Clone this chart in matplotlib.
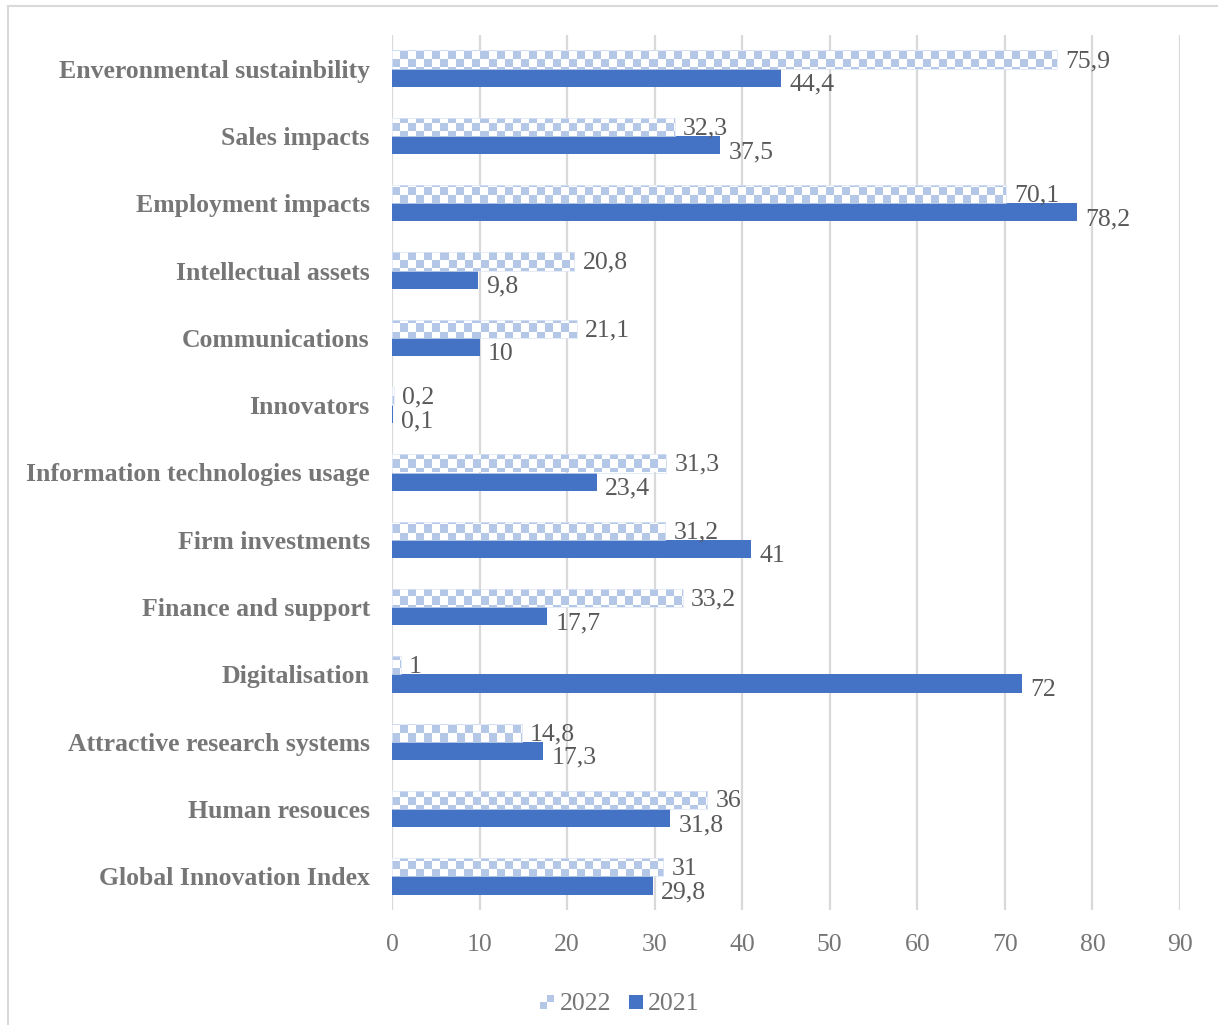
import numpy as np
import matplotlib
matplotlib.use("Agg")
import matplotlib.pyplot as plt
from matplotlib.colors import ListedColormap
from matplotlib.patches import Rectangle
from matplotlib.lines import Line2D
from matplotlib.legend_handler import HandlerBase

categories = [
    "Enveronmental sustainbility",
    "Sales impacts",
    "Employment impacts",
    "Intellectual assets",
    "Communications",
    "Innovators",
    "Information technologies usage",
    "Firm investments",
    "Finance and support",
    "Digitalisation",
    "Attractive research systems",
    "Human resouces",
    "Global Innovation Index",
]
values_2022 = [75.9, 32.3, 70.1, 20.8, 21.1, 0.2, 31.3, 31.2, 33.2, 1, 14.8, 36, 31]
values_2021 = [44.4, 37.5, 78.2, 9.8, 10, 0.1, 23.4, 41, 17.7, 72, 17.3, 31.8, 29.8]
labels_2022 = ["75,9", "32,3", "70,1", "20,8", "21,1", "0,2", "31,3", "31,2", "33,2", "1", "14,8", "36", "31"]
labels_2021 = ["44,4", "37,5", "78,2", "9,8", "10", "0,1", "23,4", "41", "17,7", "72", "17,3", "31,8", "29,8"]
xticks = [0, 10, 20, 30, 40, 50, 60, 70, 80, 90]
series_names = ["2022", "2021"]

C21 = "#4472C4"
C22 = "#B4C7E7"
LABEL_GRAY = "#767676"
NUM_GRAY = "#595959"
GRID = "#D9D9D9"

plt.rcParams["font.family"] = ["Liberation Serif", "DejaVu Serif"]

W, H = 1218, 1025
fig = plt.figure(figsize=(W / 100, H / 100), dpi=100)
ax = fig.add_axes([392 / W, 1 - 910 / H, (1180 - 392) / W, (910 - 35) / H])

n = len(categories)
ypos = np.arange(n)[::-1]  # first category at top
bh = 0.27
y22 = ypos + bh / 2
y21 = ypos - bh / 2

bars21 = ax.barh(y21, values_2021, height=bh, color=C21, zorder=3)
bars22 = ax.barh(y22, values_2022, height=bh, color="none", edgecolor="#DCE5F4", linewidth=0.5, zorder=4)

ax.set_xlim(0, 90)
ax.set_ylim(-0.5, n - 0.5)

# checkerboard fill for the 2022 bars (approx. 8 px squares)
ax_w_px = 1180 - 392
ax_h_px = 910 - 35
ncol = ax_w_px // 8
nrow = ax_h_px // 8
ii, jj = np.indices((nrow, ncol))
checker = (ii + jj) % 2
cmap = ListedColormap(["white", C22])
for b in bars22:
    im = ax.imshow(checker, cmap=cmap, extent=(0, 90, -0.5, n - 0.5), aspect="auto",
                   interpolation="nearest", zorder=3.5, origin="upper")
    im.set_clip_path(b)
ax.set_xlim(0, 90)
ax.set_ylim(-0.5, n - 0.5)

ax.set_xticks(xticks)
ax.set_yticks(ypos)
ax.set_yticklabels(categories, fontsize=18.5, fontweight="bold", color=LABEL_GRAY)
ax.tick_params(axis="y", length=0, pad=16)
ax.tick_params(axis="x", length=0, pad=17, labelsize=18.5)
for lab in ax.get_xticklabels():
    lab.set_color(LABEL_GRAY)
ax.grid(axis="x", color=GRID, linewidth=1.6, zorder=0)
ax.set_axisbelow(True)
for s in ax.spines.values():
    s.set_visible(False)

for v, y, t in zip(values_2022, y22, labels_2022):
    ax.annotate(t, (v, y), xytext=(6, -1), textcoords="offset points",
                va="center", ha="left", fontsize=18.5, color=NUM_GRAY, zorder=6)
for v, y, t in zip(values_2021, y21, labels_2021):
    ax.annotate(t, (v, y), xytext=(6, -5), textcoords="offset points",
                va="center", ha="left", fontsize=18.5, color=NUM_GRAY, zorder=6)


class CheckerHandler(HandlerBase):
    def create_artists(self, legend, orig_handle, xdescent, ydescent, width, height, fontsize, trans):
        s = min(width, height)
        x0 = width - s - xdescent
        y0 = -ydescent
        h = s / 2
        arts = []
        for (dx, dy, c) in [(0, 0, C22), (h, 0, "white"), (0, h, "white"), (h, h, C22)]:
            r = Rectangle((x0 + dx, y0 + dy), h, h, facecolor=c, edgecolor="none", transform=trans)
            arts.append(r)
        return arts


class SquareHandler(HandlerBase):
    def create_artists(self, legend, orig_handle, xdescent, ydescent, width, height, fontsize, trans):
        s = min(width, height)
        r = Rectangle((width - s - xdescent, -ydescent), s, s, facecolor=C21, edgecolor="none", transform=trans)
        return [r]


h22 = Rectangle((0, 0), 1, 1)
h21 = Rectangle((0, 0), 1, 1)
leg = fig.legend([h22, h21], series_names, loc="center", bbox_to_anchor=(620 / W, 1 - 1004 / H),
                 ncol=2, frameon=False, fontsize=18.5, handlelength=0.55, handleheight=0.55,
                 handletextpad=0.2, columnspacing=0.7,
                 handler_map={h22: CheckerHandler(), h21: SquareHandler()})
for t in leg.get_texts():
    t.set_color(LABEL_GRAY)

# outer chart border
fig.add_artist(Line2D([8 / W, 8 / W], [0, 1 - 6 / H], transform=fig.transFigure, color=GRID, linewidth=1.5))
fig.add_artist(Line2D([8 / W, 1], [1 - 6 / H, 1 - 6 / H], transform=fig.transFigure, color=GRID, linewidth=1.5))

fig.savefig("out.png", dpi=100, facecolor="white")
